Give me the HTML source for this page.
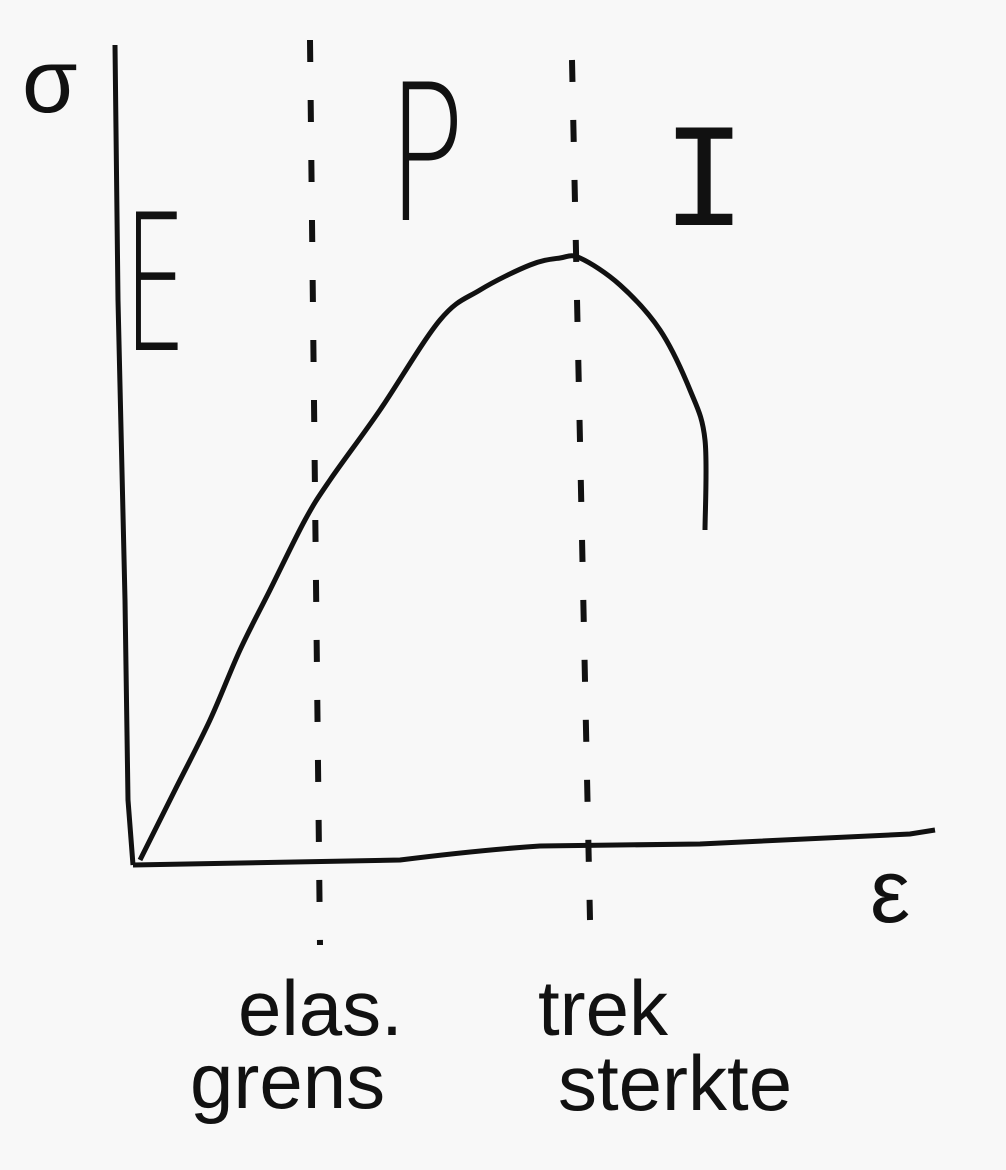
<!DOCTYPE html>
<html><head><meta charset="utf-8"><style>
html,body{margin:0;padding:0;background:#f8f8f8;}
svg{display:block}
text{font-family:"Liberation Sans",sans-serif;fill:#111;}
.thin{font-family:"DejaVu Sans","Liberation Sans",sans-serif;font-weight:200;}
</style></head><body>
<svg width="1006" height="1170" viewBox="0 0 1006 1170">
<rect width="1006" height="1170" fill="#f8f8f8"/>
<path d="M115 45 L118 300 L125 600 L128 800 L133 865" stroke="#111" stroke-width="5" fill="none"/>
<path d="M133 865 Q300 862 400 860 Q480 850 540 846 L700 844 L910 834 L935 830" stroke="#111" stroke-width="5" fill="none"/>
<path d="M310 40 L320 945" stroke="#111" stroke-width="6" stroke-dasharray="22 38" fill="none"/>
<path d="M572 60 L590 920" stroke="#111" stroke-width="6" stroke-dasharray="22 38" fill="none"/>
<path id="curve" stroke="#111" stroke-width="5" fill="none" stroke-linejoin="round"/>
<text x="22" y="112" font-size="90">σ</text>
<text x="870" y="922" font-size="90">ε</text>
<text class="thin" font-size="190" transform="translate(124,350) scale(0.52,1)">E</text>
<text class="thin" font-size="190" transform="translate(387,220) scale(0.68,1)">P</text>
<text font-size="148" style="font-family:'Liberation Mono',monospace" transform="translate(662,225) scale(0.95,1)">I</text>
<text x="238" y="1035" font-size="78">elas.</text>
<text x="190" y="1108" font-size="78">grens</text>
<text x="538" y="1035" font-size="78">trek</text>
<text x="558" y="1110" font-size="78">sterkte</text>
</svg>
<script>
const strain=[0.7,1.7,4.2,7.7,10.7,13.7,17.2,19.7,24.7,30.7,34.7,39.7,42.7,44.7,48.7,52.7,55.7,57.2,57.2];
const stress=[0.5,2.5,7.5,14.5,21.5,27.5,34.5,38.5,45.5,54.5,57.5,60,60.7,60.7,58,53.5,47.5,42.5,33.5];
const xs=v=>133+v*10, ys=v=>865-v*10;
const P=strain.map((s,i)=>[xs(s),ys(stress[i])]);
let d='M'+P[0][0]+' '+P[0][1];
for(let i=0;i<P.length-1;i++){
  const p0=P[Math.max(i-1,0)],p1=P[i],p2=P[i+1],p3=P[Math.min(i+2,P.length-1)];
  const c1=[p1[0]+(p2[0]-p0[0])/6,p1[1]+(p2[1]-p0[1])/6];
  const c2=[p2[0]-(p3[0]-p1[0])/6,p2[1]-(p3[1]-p1[1])/6];
  d+=' C'+c1.join(' ')+' '+c2.join(' ')+' '+p2.join(' ');
}
const c=document.getElementById('curve');
c.setAttribute('d',d);
</script>
</body></html>
